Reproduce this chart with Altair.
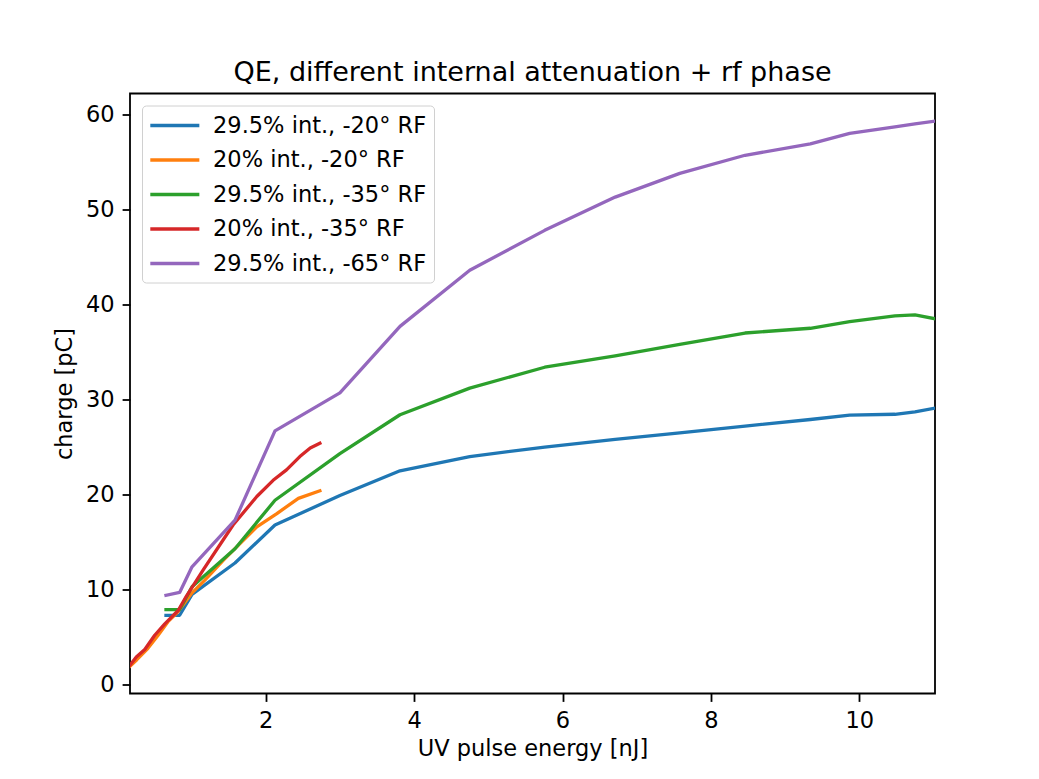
import altair as alt
import pandas as pd

series_names = [
    "29.5% int., -20° RF",
    "20% int., -20° RF",
    "29.5% int., -35° RF",
    "20% int., -35° RF",
    "29.5% int., -65° RF",
]
colors = ["#1f77b4", "#ff7f0e", "#2ca02c", "#d62728", "#9467bd"]

x_common = [0.656, 0.84, 1.007, 1.586, 2.125, 3.0, 3.81, 4.75, 5.76, 6.71,
            7.58, 8.46, 9.34, 9.87, 10.48, 10.75, 11.02]
y_blue = [7.3, 7.3, 9.5, 12.8, 16.8, 19.9, 22.5, 24.0, 25.0, 25.8,
          26.5, 27.2, 27.9, 28.35, 28.45, 28.7, 29.1]
y_green = [7.9, 7.9, 10.3, 14.3, 19.4, 24.3, 28.4, 31.2, 33.4, 34.6,
           35.8, 37.0, 37.5, 38.2, 38.8, 38.9, 38.5]
y_purple = [9.4, 9.7, 12.4, 17.3, 26.7, 30.7, 37.7, 43.6, 47.8, 51.3,
            53.8, 55.7, 56.9, 58.0, 58.7, 59.0, 59.3]
x_orange = [0.171, 0.26, 0.41, 0.55, 0.68, 0.82, 1.0, 1.18, 1.43, 1.88,
            2.15, 2.44, 2.73]
y_orange = [1.94, 2.6, 3.8, 5.2, 6.6, 7.7, 9.6, 11.0, 13.1, 16.6,
            18.0, 19.6, 20.4]
x_red = [0.171, 0.256, 0.37, 0.504, 0.64, 0.82, 0.93, 1.16, 1.56, 1.88,
         2.10, 2.28, 2.46, 2.60, 2.73]
y_red = [2.05, 2.9, 3.7, 5.2, 6.4, 7.8, 9.3, 12.1, 16.8, 19.8,
         21.5, 22.6, 24.0, 24.9, 25.4]

x_ticks = [2, 4, 6, 8, 10]
y_ticks = [0, 10, 20, 30, 40, 50, 60]

series_data = [
    (x_common, y_blue),
    (x_orange, y_orange),
    (x_common, y_green),
    (x_red, y_red),
    (x_common, y_purple),
]

rows = []
for i, (name, (xs, ys)) in enumerate(zip(series_names, series_data)):
    for j, (xv, yv) in enumerate(zip(xs, ys)):
        rows.append({"series": name, "order": i, "idx": j, "energy": xv, "charge": yv})
df = pd.DataFrame(rows)

FONT = "DejaVu Sans"

chart = (
    alt.Chart(df)
    .mark_line(strokeWidth=3.3, clip=True, strokeJoin="round", strokeCap="square")
    .encode(
        x=alt.X(
            "energy:Q",
            title="UV pulse energy [nJ]",
            scale=alt.Scale(domain=[0.171, 11.02], nice=False, zero=False),
            axis=alt.Axis(values=x_ticks, format="d"),
        ),
        y=alt.Y(
            "charge:Q",
            title="charge [pC]",
            scale=alt.Scale(domain=[-0.93, 62.2], nice=False, zero=False),
            axis=alt.Axis(values=y_ticks, format="d"),
        ),
        color=alt.Color(
            "series:N",
            scale=alt.Scale(domain=series_names, range=colors),
            legend=alt.Legend(
                title=None,
                orient="none",
                legendX=12,
                legendY=12,
                symbolType="M-1.04,0H3.32",
                symbolSize=506,
                symbolStrokeWidth=3.3,
                labelOffset=38,
                labelFontSize=22.5,
                labelFont=FONT,
                labelColor="black",
                rowPadding=9.5,
                padding=7,
                fillColor="white",
                strokeColor="#d0d0d0",
                cornerRadius=4,
                labelLimit=400,
            ),
        ),
        order=alt.Order("idx:Q"),
        detail="order:N",
    )
    .properties(
        width=805,
        height=600,
        title=alt.TitleParams(
            "QE, different internal attenuation + rf phase",
            font=FONT,
            fontSize=27,
            fontWeight="normal",
            color="black",
            anchor="middle",
            offset=-14,
            baseline="alphabetic",
        ),
        autosize=alt.AutoSizeParams(type="none"),
        padding={"left": 122, "top": 85.5, "right": 96, "bottom": 77},
    )
    .configure_view(stroke="black", strokeWidth=1.8)
    .configure_axis(
        grid=False,
        domain=False,
        ticks=True,
        tickColor="black",
        tickWidth=1.8,
        tickSize=7.9,
        labelPadding=7.9,
        labelFont=FONT,
        labelFontSize=22.5,
        labelColor="black",
        titleFont=FONT,
        titleFontSize=22.5,
        titleFontWeight="normal",
        titleColor="black",
    )
    .configure_axisX(titlePadding=6)
    .configure_axisY(titlePadding=9)
)

chart.save("out.html", embed_options={"renderer": "svg", "actions": False})
